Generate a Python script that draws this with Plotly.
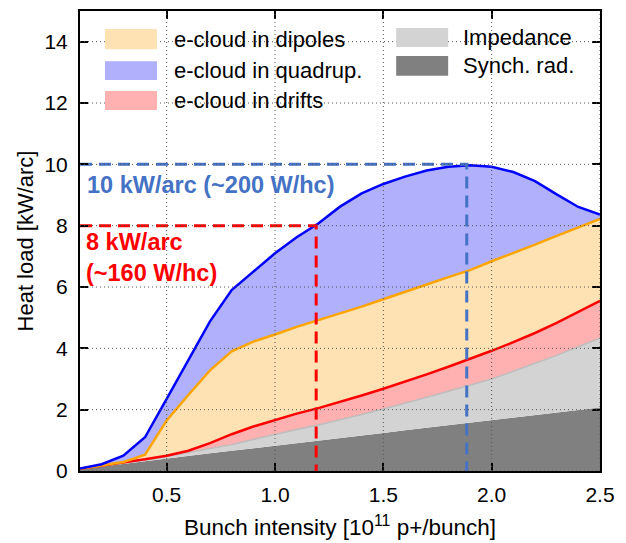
import plotly.graph_objects as go

# ---------------- data ----------------
intensity = [0.1, 0.2, 0.3, 0.4, 0.5, 0.6, 0.7, 0.8, 0.9, 1.0, 1.1, 1.2, 1.3,
             1.4, 1.5, 1.6, 1.7, 1.8, 1.9, 2.0, 2.1, 2.2, 2.3, 2.4, 2.5]

# cumulative (stacked) upper edges of each contribution [kW/arc]
synch_rad_top = [0.06, 0.15, 0.24, 0.32, 0.41, 0.49, 0.58, 0.66, 0.74, 0.83, 0.91, 0.99, 1.08,
                 1.16, 1.24, 1.33, 1.41, 1.49, 1.58, 1.66, 1.74, 1.82, 1.91, 1.99, 2.07]
impedance_top = [0.07, 0.16, 0.26, 0.36, 0.47, 0.6, 0.73, 0.86, 1.03, 1.2, 1.35, 1.5, 1.66,
                 1.84, 2.02, 2.2, 2.4, 2.6, 2.8, 3.0, 3.25, 3.5, 3.77, 4.05, 4.33]
drifts_top = [0.07, 0.17, 0.27, 0.38, 0.5, 0.66, 0.91, 1.2, 1.45, 1.66, 1.87, 2.05, 2.25,
              2.46, 2.68, 2.91, 3.15, 3.4, 3.65, 3.92, 4.2, 4.5, 4.83, 5.18, 5.55]
dipoles_top = [0.07, 0.17, 0.29, 0.53, 1.65, 2.48, 3.28, 3.9, 4.22, 4.45, 4.7, 4.92, 5.13,
               5.36, 5.6, 5.85, 6.08, 6.32, 6.55, 6.84, 7.1, 7.38, 7.67, 7.95, 8.22]
quadrup_top = [0.08, 0.22, 0.5, 1.1, 2.35, 3.62, 4.88, 5.9, 6.5, 7.1, 7.62, 8.07, 8.62,
               9.05, 9.36, 9.6, 9.8, 9.92, 9.97, 9.92, 9.75, 9.45, 9.02, 8.61, 8.36]

series_names = ["Synch. rad.", "Impedance", "e-cloud in drifts",
                "e-cloud in dipoles", "e-cloud in quadrup."]

# reference limits
limit_8_load, limit_8_intensity = 8, 1.19
limit_10_load, limit_10_intensity = 10, 1.885
limit_8_text = "8 kW/arc<br>(~160 W/hc)"
limit_10_text = "10 kW/arc (~200 W/hc)"

x_tickvals = [0.5, 1.0, 1.5, 2.0, 2.5]
x_ticktext = ["0.5", "1.0", "1.5", "2.0", "2.5"]
y_tickvals = [0, 2, 4, 6, 8, 10, 12, 14]
x_range = [0.1, 2.5]
y_range = [0, 15]

# ---------------- styles ----------------
FONT = "Liberation Sans, Arial, sans-serif"
fill_colors = ["#808080", "#d3d3d3", "#ffb0b0", "#ffe2b3", "#b0b0fc"]
line_colors = ["rgba(0,0,0,0)", "#bdbdbd", "#ff0000", "#ffa500", "#0000ff"]
line_widths = [0, 1.5, 2.5, 2.5, 2.5]
tops = [synch_rad_top, impedance_top, drifts_top, dipoles_top, quadrup_top]

fig = go.Figure()
for i, (name, top) in enumerate(zip(series_names, tops)):
    fig.add_trace(go.Scatter(
        x=intensity, y=top, name=name, mode="lines",
        fill="tozeroy" if i == 0 else "tonexty",
        fillcolor=fill_colors[i],
        line=dict(color=line_colors[i], width=line_widths[i]),
        showlegend=False, hoverinfo="x+y+name"))

# threshold dashed lines
dash_red = "#ff0000"
dash_blue = "#4472c4"
for load, inten, col in [(limit_8_load, limit_8_intensity, dash_red),
                         (limit_10_load, limit_10_intensity, dash_blue)]:
    fig.add_trace(go.Scatter(x=[x_range[0], inten, inten], y=[load, load, 0],
                             mode="lines", showlegend=False, hoverinfo="skip",
                             line=dict(color=col, width=3, dash="12px,7px")))

# dotted grid on top of the filled areas
grid_style = dict(color="#555555", width=1, dash="1px,3px")
shapes = []
for xv in x_tickvals:
    shapes.append(dict(type="line", xref="x", yref="paper", x0=xv, x1=xv, y0=0, y1=1,
                       line=grid_style, layer="above"))
for yv in y_tickvals:
    shapes.append(dict(type="line", xref="paper", yref="y", x0=0, x1=1, y0=yv, y1=yv,
                       line=grid_style, layer="above"))

# legend (two columns, large swatches)
legend_left = ["e-cloud in dipoles", "e-cloud in quadrup.", "e-cloud in drifts"]
legend_left_colors = [fill_colors[3], fill_colors[4], fill_colors[2]]
legend_right = ["Impedance", "Synch. rad."]
legend_right_colors = [fill_colors[1], fill_colors[0]]

annotations = []
left_rows = [(0.961, 0.917), (0.891, 0.850), (0.826, 0.785)]
for (y1, y0), txt, col in zip(left_rows, legend_left, legend_left_colors):
    shapes.append(dict(type="rect", xref="paper", yref="paper", x0=0.048, x1=0.148,
                       y0=y0, y1=y1, fillcolor=col, line=dict(width=0), layer="above"))
    annotations.append(dict(xref="paper", yref="paper", x=0.176, y=(y0 + y1) / 2,
                            text=txt, showarrow=False, xanchor="left", yanchor="middle",
                            font=dict(family=FONT, size=22, color="black")))
right_rows = [(0.963, 0.922), (0.902, 0.859)]
for (y1, y0), txt, col in zip(right_rows, legend_right, legend_right_colors):
    shapes.append(dict(type="rect", xref="paper", yref="paper", x0=0.608, x1=0.708,
                       y0=y0, y1=y1, fillcolor=col, line=dict(width=0), layer="above"))
    annotations.append(dict(xref="paper", yref="paper", x=0.733, y=(y0 + y1) / 2,
                            text=txt, showarrow=False, xanchor="left", yanchor="middle",
                            font=dict(family=FONT, size=22, color="black")))

annotations.append(dict(xref="x", yref="y", x=0.122, y=9.31, text="<b>" + limit_10_text + "</b>",
                        showarrow=False, xanchor="left", yanchor="middle",
                        font=dict(family=FONT, size=23.5, color=dash_blue)))
annotations.append(dict(xref="x", yref="y", x=0.117, y=6.95, text="<b>" + limit_8_text + "</b>",
                        showarrow=False, xanchor="left", yanchor="middle", align="left",
                        font=dict(family=FONT, size=23.5, color=dash_red)))

axis_common = dict(showline=True, linecolor="black", linewidth=2, mirror="ticks",
                   ticks="inside", ticklen=8, tickwidth=1.5, tickcolor="black",
                   showgrid=False, zeroline=False, automargin=False,
                   tickfont=dict(family=FONT, size=21, color="black"))

fig.update_layout(
    width=626, height=543,
    margin=dict(l=80, r=26, t=11, b=72, autoexpand=False),
    paper_bgcolor="white", plot_bgcolor="white",
    font=dict(family=FONT, color="black"),
    xaxis=dict(range=x_range, tickvals=x_tickvals, ticktext=x_ticktext,
               ticklabelstandoff=4,
               title=dict(text="Bunch intensity [10<sup>11</sup> p+/bunch]",
                          font=dict(family=FONT, size=22.5), standoff=14),
               **axis_common),
    yaxis=dict(range=y_range, tickvals=y_tickvals, ticklabelstandoff=6,
               title=dict(text="Heat load [kW/arc]", font=dict(family=FONT, size=22),
                          standoff=5),
               **axis_common),
    shapes=shapes, annotations=annotations, showlegend=False,
)

fig.write_html("out.html")
